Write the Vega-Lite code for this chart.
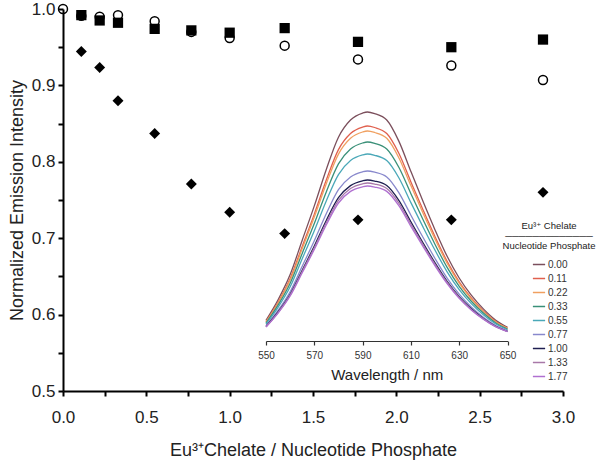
{
  "$schema": "https://vega.github.io/schema/vega-lite/v6.json",
  "width": 500,
  "height": 382,
  "autosize": {"type": "none"},
  "padding": {"left": 63, "top": 9, "right": 37, "bottom": 70},
  "background": "white",
  "config": {
    "view": {"stroke": null},
    "font": "Liberation Sans",
    "axis": {"grid": false, "labelFont": "Liberation Sans", "titleFont": "Liberation Sans", "titleFontWeight": "normal"}
  },
  "datasets": {
    "main": [
      {"ratio": 0.11, "series": "square", "norm": 0.992},
      {"ratio": 0.22, "series": "square", "norm": 0.985},
      {"ratio": 0.33, "series": "square", "norm": 0.982},
      {"ratio": 0.55, "series": "square", "norm": 0.974},
      {"ratio": 0.77, "series": "square", "norm": 0.972},
      {"ratio": 1.0, "series": "square", "norm": 0.969},
      {"ratio": 1.33, "series": "square", "norm": 0.975},
      {"ratio": 1.77, "series": "square", "norm": 0.957},
      {"ratio": 2.33, "series": "square", "norm": 0.950},
      {"ratio": 2.88, "series": "square", "norm": 0.960},
      {"ratio": 0.0, "series": "circle", "norm": 1.0},
      {"ratio": 0.11, "series": "circle", "norm": 0.991},
      {"ratio": 0.22, "series": "circle", "norm": 0.990},
      {"ratio": 0.33, "series": "circle", "norm": 0.992},
      {"ratio": 0.55, "series": "circle", "norm": 0.984},
      {"ratio": 0.77, "series": "circle", "norm": 0.970},
      {"ratio": 1.0, "series": "circle", "norm": 0.962},
      {"ratio": 1.33, "series": "circle", "norm": 0.952},
      {"ratio": 1.77, "series": "circle", "norm": 0.934},
      {"ratio": 2.33, "series": "circle", "norm": 0.926},
      {"ratio": 2.88, "series": "circle", "norm": 0.907},
      {"ratio": 0.11, "series": "diamond", "norm": 0.9445},
      {"ratio": 0.22, "series": "diamond", "norm": 0.9235},
      {"ratio": 0.33, "series": "diamond", "norm": 0.880},
      {"ratio": 0.55, "series": "diamond", "norm": 0.837},
      {"ratio": 0.77, "series": "diamond", "norm": 0.771},
      {"ratio": 1.0, "series": "diamond", "norm": 0.734},
      {"ratio": 1.33, "series": "diamond", "norm": 0.706},
      {"ratio": 1.77, "series": "diamond", "norm": 0.724},
      {"ratio": 2.33, "series": "diamond", "norm": 0.724},
      {"ratio": 2.88, "series": "diamond", "norm": 0.760}
    ],
    "spectra": [
      {"r":"0.00","w":550,"i":20.6},{"r":"0.00","w":555,"i":41.2},{"r":"0.00","w":560,"i":66.4},{"r":"0.00","w":565,"i":100.8},{"r":"0.00","w":570,"i":135.1},{"r":"0.00","w":575,"i":171.8},{"r":"0.00","w":580,"i":203.8},{"r":"0.00","w":585,"i":221.0},{"r":"0.00","w":590,"i":227.9},{"r":"0.00","w":592,"i":229.0},{"r":"0.00","w":595,"i":227.4},{"r":"0.00","w":600,"i":221.0},{"r":"0.00","w":605,"i":199.9},{"r":"0.00","w":610,"i":169.5},{"r":"0.00","w":615,"i":139.7},{"r":"0.00","w":620,"i":111.1},{"r":"0.00","w":625,"i":84.7},{"r":"0.00","w":630,"i":63.0},{"r":"0.00","w":635,"i":45.8},{"r":"0.00","w":640,"i":32.1},{"r":"0.00","w":645,"i":21.1},{"r":"0.00","w":650,"i":13.7},
      {"r":"0.11","w":550,"i":19.4},{"r":"0.11","w":555,"i":38.7},{"r":"0.11","w":560,"i":62.4},{"r":"0.11","w":565,"i":94.6},{"r":"0.11","w":570,"i":126.9},{"r":"0.11","w":575,"i":161.3},{"r":"0.11","w":580,"i":191.4},{"r":"0.11","w":585,"i":207.5},{"r":"0.11","w":590,"i":213.9},{"r":"0.11","w":592,"i":215.0},{"r":"0.11","w":595,"i":213.5},{"r":"0.11","w":600,"i":207.5},{"r":"0.11","w":605,"i":187.7},{"r":"0.11","w":610,"i":159.1},{"r":"0.11","w":615,"i":131.2},{"r":"0.11","w":620,"i":104.3},{"r":"0.11","w":625,"i":79.6},{"r":"0.11","w":630,"i":59.1},{"r":"0.11","w":635,"i":43.0},{"r":"0.11","w":640,"i":30.1},{"r":"0.11","w":645,"i":19.8},{"r":"0.11","w":650,"i":12.9},
      {"r":"0.22","w":550,"i":18.9},{"r":"0.22","w":555,"i":37.8},{"r":"0.22","w":560,"i":60.9},{"r":"0.22","w":565,"i":92.4},{"r":"0.22","w":570,"i":123.9},{"r":"0.22","w":575,"i":157.5},{"r":"0.22","w":580,"i":186.9},{"r":"0.22","w":585,"i":202.7},{"r":"0.22","w":590,"i":209.0},{"r":"0.22","w":592,"i":210.0},{"r":"0.22","w":595,"i":208.5},{"r":"0.22","w":600,"i":202.7},{"r":"0.22","w":605,"i":183.3},{"r":"0.22","w":610,"i":155.4},{"r":"0.22","w":615,"i":128.1},{"r":"0.22","w":620,"i":101.9},{"r":"0.22","w":625,"i":77.7},{"r":"0.22","w":630,"i":57.8},{"r":"0.22","w":635,"i":42.0},{"r":"0.22","w":640,"i":29.4},{"r":"0.22","w":645,"i":19.3},{"r":"0.22","w":650,"i":12.6},
      {"r":"0.33","w":550,"i":17.9},{"r":"0.33","w":555,"i":35.8},{"r":"0.33","w":560,"i":57.7},{"r":"0.33","w":565,"i":87.6},{"r":"0.33","w":570,"i":117.4},{"r":"0.33","w":575,"i":149.3},{"r":"0.33","w":580,"i":177.1},{"r":"0.33","w":585,"i":192.0},{"r":"0.33","w":590,"i":198.0},{"r":"0.33","w":592,"i":199.0},{"r":"0.33","w":595,"i":197.6},{"r":"0.33","w":600,"i":192.0},{"r":"0.33","w":605,"i":173.7},{"r":"0.33","w":610,"i":147.3},{"r":"0.33","w":615,"i":121.4},{"r":"0.33","w":620,"i":96.5},{"r":"0.33","w":625,"i":73.6},{"r":"0.33","w":630,"i":54.7},{"r":"0.33","w":635,"i":39.8},{"r":"0.33","w":640,"i":27.9},{"r":"0.33","w":645,"i":18.3},{"r":"0.33","w":650,"i":11.9},
      {"r":"0.55","w":550,"i":16.8},{"r":"0.55","w":555,"i":33.7},{"r":"0.55","w":560,"i":54.2},{"r":"0.55","w":565,"i":82.3},{"r":"0.55","w":570,"i":110.3},{"r":"0.55","w":575,"i":140.3},{"r":"0.55","w":580,"i":166.4},{"r":"0.55","w":585,"i":180.5},{"r":"0.55","w":590,"i":186.1},{"r":"0.55","w":592,"i":187.0},{"r":"0.55","w":595,"i":185.7},{"r":"0.55","w":600,"i":180.5},{"r":"0.55","w":605,"i":163.3},{"r":"0.55","w":610,"i":138.4},{"r":"0.55","w":615,"i":114.1},{"r":"0.55","w":620,"i":90.7},{"r":"0.55","w":625,"i":69.2},{"r":"0.55","w":630,"i":51.4},{"r":"0.55","w":635,"i":37.4},{"r":"0.55","w":640,"i":26.2},{"r":"0.55","w":645,"i":17.2},{"r":"0.55","w":650,"i":11.2},
      {"r":"0.77","w":550,"i":15.3},{"r":"0.77","w":555,"i":30.6},{"r":"0.77","w":560,"i":49.3},{"r":"0.77","w":565,"i":74.8},{"r":"0.77","w":570,"i":100.3},{"r":"0.77","w":575,"i":127.5},{"r":"0.77","w":580,"i":151.3},{"r":"0.77","w":585,"i":164.1},{"r":"0.77","w":590,"i":169.2},{"r":"0.77","w":592,"i":170.0},{"r":"0.77","w":595,"i":168.8},{"r":"0.77","w":600,"i":164.1},{"r":"0.77","w":605,"i":148.4},{"r":"0.77","w":610,"i":125.8},{"r":"0.77","w":615,"i":103.7},{"r":"0.77","w":620,"i":82.5},{"r":"0.77","w":625,"i":62.9},{"r":"0.77","w":630,"i":46.8},{"r":"0.77","w":635,"i":34.0},{"r":"0.77","w":640,"i":23.8},{"r":"0.77","w":645,"i":15.6},{"r":"0.77","w":650,"i":10.2},
      {"r":"1.00","w":550,"i":14.5},{"r":"1.00","w":555,"i":29.0},{"r":"1.00","w":560,"i":46.7},{"r":"1.00","w":565,"i":70.8},{"r":"1.00","w":570,"i":95.0},{"r":"1.00","w":575,"i":120.8},{"r":"1.00","w":580,"i":143.3},{"r":"1.00","w":585,"i":155.4},{"r":"1.00","w":590,"i":160.2},{"r":"1.00","w":592,"i":161.0},{"r":"1.00","w":595,"i":159.9},{"r":"1.00","w":600,"i":155.4},{"r":"1.00","w":605,"i":140.6},{"r":"1.00","w":610,"i":119.1},{"r":"1.00","w":615,"i":98.2},{"r":"1.00","w":620,"i":78.1},{"r":"1.00","w":625,"i":59.6},{"r":"1.00","w":630,"i":44.3},{"r":"1.00","w":635,"i":32.2},{"r":"1.00","w":640,"i":22.5},{"r":"1.00","w":645,"i":14.8},{"r":"1.00","w":650,"i":9.7},
      {"r":"1.33","w":550,"i":14.2},{"r":"1.33","w":555,"i":28.4},{"r":"1.33","w":560,"i":45.8},{"r":"1.33","w":565,"i":69.5},{"r":"1.33","w":570,"i":93.2},{"r":"1.33","w":575,"i":118.5},{"r":"1.33","w":580,"i":140.6},{"r":"1.33","w":585,"i":152.5},{"r":"1.33","w":590,"i":157.2},{"r":"1.33","w":592,"i":158.0},{"r":"1.33","w":595,"i":156.9},{"r":"1.33","w":600,"i":152.5},{"r":"1.33","w":605,"i":137.9},{"r":"1.33","w":610,"i":116.9},{"r":"1.33","w":615,"i":96.4},{"r":"1.33","w":620,"i":76.6},{"r":"1.33","w":625,"i":58.5},{"r":"1.33","w":630,"i":43.5},{"r":"1.33","w":635,"i":31.6},{"r":"1.33","w":640,"i":22.1},{"r":"1.33","w":645,"i":14.5},{"r":"1.33","w":650,"i":9.5},
      {"r":"1.77","w":550,"i":14.0},{"r":"1.77","w":555,"i":27.9},{"r":"1.77","w":560,"i":45.0},{"r":"1.77","w":565,"i":68.2},{"r":"1.77","w":570,"i":91.5},{"r":"1.77","w":575,"i":116.3},{"r":"1.77","w":580,"i":138.0},{"r":"1.77","w":585,"i":149.6},{"r":"1.77","w":590,"i":154.2},{"r":"1.77","w":592,"i":155.0},{"r":"1.77","w":595,"i":153.9},{"r":"1.77","w":600,"i":149.6},{"r":"1.77","w":605,"i":135.3},{"r":"1.77","w":610,"i":114.7},{"r":"1.77","w":615,"i":94.6},{"r":"1.77","w":620,"i":75.2},{"r":"1.77","w":625,"i":57.4},{"r":"1.77","w":630,"i":42.6},{"r":"1.77","w":635,"i":31.0},{"r":"1.77","w":640,"i":21.7},{"r":"1.77","w":645,"i":14.3},{"r":"1.77","w":650,"i":9.3}
    ]
  },
  "layer": [
    {
      "data": {"name": "main"},
      "encoding": {
        "x": {
          "field": "ratio", "type": "quantitative",
          "scale": {"domain": [0, 3], "nice": false, "zero": false},
          "axis": {
            "title": "Eu³⁺Chelate / Nucleotide Phosphate",
            "values": [0, 0.25, 0.5, 0.75, 1, 1.25, 1.5, 1.75, 2, 2.25, 2.5, 2.75, 3],
            "labelExpr": "datum.value % 0.5 == 0 ? format(datum.value, '.1f') : ''",
            "domainColor": "black", "domainWidth": 2, "tickColor": "black", "tickWidth": 2, "tickSize": 5,
            "labelFontSize": 17, "labelColor": "#222", "labelPadding": 13,
            "titleFontSize": 18, "titleColor": "#222", "titlePadding": 16, "labelFlush": false, "labelOverlap": false
          }
        },
        "y": {
          "field": "norm", "type": "quantitative",
          "scale": {"domain": [0.5, 1.0], "nice": false, "zero": false},
          "axis": {
            "title": "Normalized Emission Intensity",
            "values": [0.5, 0.55, 0.6, 0.65, 0.7, 0.75, 0.8, 0.85, 0.9, 0.95, 1.0],
            "labelExpr": "round(datum.value * 100) % 10 == 0 ? format(datum.value, '.1f') : ''",
            "domainColor": "black", "domainWidth": 2, "tickColor": "black", "tickWidth": 2, "tickSize": 5,
            "labelFontSize": 17, "labelColor": "#222", "labelPadding": 3,
            "titleFontSize": 18, "titleColor": "#222", "titlePadding": 5, "labelFlush": false, "labelOverlap": false
          }
        }
      },
      "layer": [
        {
          "transform": [{"filter": "datum.series == 'square'"}],
          "mark": {"type": "point", "shape": "square", "filled": true, "color": "black", "size": 105, "opacity": 1}
        },
        {
          "transform": [{"filter": "datum.series == 'diamond'"}],
          "mark": {"type": "point", "shape": "diamond", "filled": true, "color": "black", "size": 120, "opacity": 1}
        },
        {
          "transform": [{"filter": "datum.series == 'circle'"}],
          "mark": {"type": "point", "shape": "circle", "filled": false, "stroke": "black", "strokeWidth": 1.5, "size": 80, "opacity": 1}
        }
      ]
    },
    {
      "data": {"name": "spectra"},
      "mark": {"type": "line", "interpolate": "monotone", "strokeWidth": 1.3},
      "encoding": {
        "x": {
          "field": "w", "type": "quantitative",
          "scale": {"domain": [550, 650], "range": [203, 444.5], "nice": false, "zero": false},
          "axis": {
            "orient": "bottom", "offset": -50, "title": "Wavelength / nm",
            "values": [550, 570, 590, 610, 630, 650],
            "domainColor": "#333", "domainWidth": 1.2, "tickColor": "#333", "tickWidth": 1.2, "tickSize": 4,
            "labelFontSize": 10, "labelColor": "#333", "labelPadding": 5, "labelFlush": false,
            "titleFontSize": 15, "titleColor": "#222", "titlePadding": 7
          }
        },
        "y": {
          "field": "i", "type": "quantitative",
          "scale": {"domain": [0, 236], "range": [332, 96], "nice": false, "zero": false},
          "axis": null
        },
        "color": {
          "field": "r", "type": "nominal",
          "scale": {
            "domain": ["0.00", "0.11", "0.22", "0.33", "0.55", "0.77", "1.00", "1.33", "1.77"],
            "range": ["#7b4f5c", "#e0604e", "#f0a060", "#3a9078", "#4aa8b8", "#8888cc", "#1e1e50", "#a878a8", "#b070d0"]
          },
          "legend": {
            "orient": "none", "legendX": 440, "legendY": 212,
            "title": ["Eu³⁺ Chelate", "─────────────", "Nucleotide Phosphate"],
            "titleFont": "Liberation Sans, DejaVu Sans", "titleFontSize": 9.5, "titleFontWeight": "normal", "titleColor": "#222",
            "titleAnchor": "middle", "titleAlign": "center", "titleLineHeight": 10, "titlePadding": 7,
            "symbolType": "stroke", "symbolSize": 150, "symbolStrokeWidth": 1.5, "symbolOffset": 2,
            "labelFontSize": 10, "labelColor": "#333", "labelOffset": 2, "rowPadding": 2
          }
        }
      }
    }
  ],
  "resolve": {"scale": {"x": "independent", "y": "independent"}, "axis": {"x": "independent", "y": "independent"}}
}
